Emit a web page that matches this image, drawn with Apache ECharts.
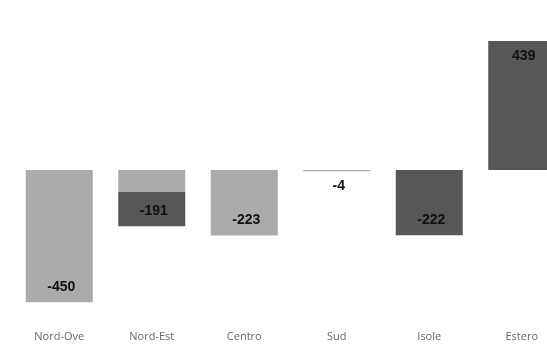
<!DOCTYPE html>
<html><head><meta charset="utf-8">
<script src="https://cdn.jsdelivr.net/npm/echarts@6/dist/echarts.min.js"></script>
<style>html,body{margin:0;padding:0;background:#fff}#c{width:547px;height:346px}</style>
</head><body><div id="c"></div>
<script>
const categories = ['Nord-Ove', 'Nord-Est', 'Centro', 'Sud', 'Isole', 'Estero'];
const values = [-450, -191, -223, -4, -222, 439];
const LIGHT = '#ababab', DARK = '#575757';
const colors = [
  LIGHT,
  {type:'linear',x:0,y:0,x2:0,y2:1,colorStops:[{offset:0,color:LIGHT},{offset:0.4,color:LIGHT},{offset:0.4,color:DARK},{offset:1,color:DARK}]},
  LIGHT, LIGHT, DARK, DARK
];
const chart = echarts.init(document.getElementById('c'));
chart.setOption({
  animation:false,
  grid:{left:13, right:-21, top:23, bottom:29, containLabel:false, outerBoundsMode:'none'},
  xAxis:{type:'category', data:categories, position:'bottom',
    axisLine:{show:false, onZero:false}, axisTick:{show:false},
    axisLabel:{color:'#666', fontSize:11, fontFamily:'Open Sans', margin:14}},
  yAxis:{type:'value', min:-500, max:500, show:false, splitLine:{show:false}},
  series:[{type:'bar', barWidth:67,
    data: values.map((v,i)=>({value:v, itemStyle:{color:colors[i]},
      label:{show:true, position: v>=0 ? 'insideTop' : (Math.abs(v)<20 ? 'bottom' : 'insideBottom'),
        distance: 8, offset:[2,0]}})),
    label:{color:'#111', fontWeight:'bold', fontSize:14, fontFamily:'Liberation Sans'}
  }]
});
</script></body></html>
